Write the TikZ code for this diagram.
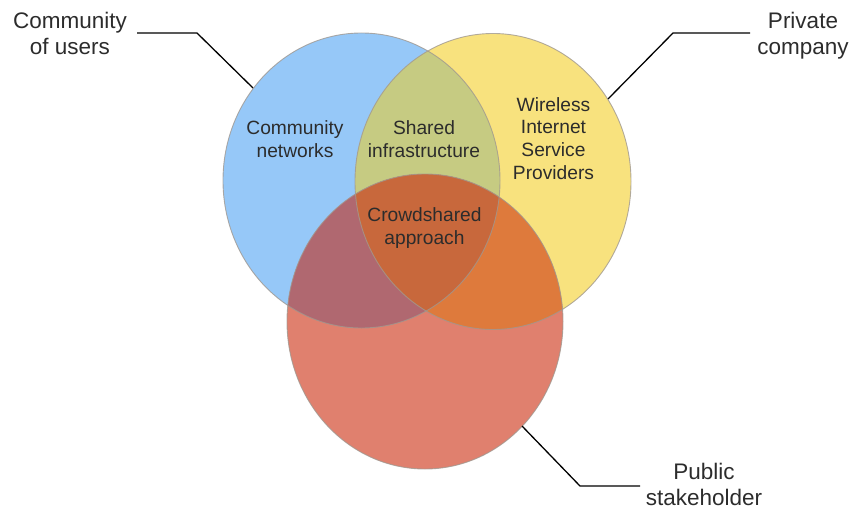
\documentclass[tikz,border=0pt]{standalone}
\usepackage{fontspec}
\setmainfont{Liberation Sans}
\definecolor{cblue}{HTML}{96C8F8}
\definecolor{cyellow}{HTML}{F8E27E}
\definecolor{cred}{HTML}{E0806E}
\definecolor{cby}{HTML}{C6CB82}
\definecolor{cbr}{HTML}{B06870}
\definecolor{cyr}{HTML}{DE7A3C}
\definecolor{cbyr}{HTML}{C8683C}
\definecolor{ctext}{HTML}{2C2C2C}
\definecolor{cedge}{HTML}{A09890}
\begin{document}
\begin{tikzpicture}[x=1pt,y=-1pt,
  outerlab/.style={anchor=base,align=center,inner sep=0pt,text=ctext,font=\fontsize{22.5}{26}\selectfont},
  innerlab/.style={anchor=base,align=center,inner sep=0pt,text=ctext,font=\fontsize{19.2}{22.6}\selectfont},
  leader/.style={draw=black,line width=1.3pt},
  rim/.style={draw=cedge,line width=0.9pt,draw opacity=0.8}]
\useasboundingbox (0,0) rectangle (851,511);
\def\PB{(361.5,180.5) ellipse [x radius=138.5, y radius=147.5]}
\def\PY{(493,181.5) ellipse [x radius=138, y radius=148]}
\def\PR{(425,321.5) ellipse [x radius=138, y radius=147.5]}
% base circles
\fill[cblue] \PB;
\fill[cyellow] \PY;
\fill[cred] \PR;
% pairwise overlaps
\begin{scope}\clip \PB; \fill[cby] \PY; \end{scope}
\begin{scope}\clip \PB; \fill[cbr] \PR; \end{scope}
\begin{scope}\clip \PY; \fill[cyr] \PR; \end{scope}
\begin{scope}\clip \PB; \clip \PY; \fill[cbyr] \PR; \end{scope}
% rims
\path[rim] \PB;
\path[rim] \PY;
\path[rim] \PR;
% inner labels (base anchor = last line's baseline)
\node[innerlab] (cn) at (295,157) {Community\\networks};
\node[innerlab] (si) at (424,157) {Shared\\infrastructure};
\node[innerlab] (wi) at (553.5,179) {Wireless\\Internet\\Service\\Providers};
\node[innerlab] (ca) at (424.5,244) {Crowdshared\\approach};
% outer labels
\node[outerlab] (cu) at (70,55) {Community\\of users};
\node[outerlab] (pc) at (803,55) {Private\\company};
\node[outerlab] (ps) at (704,505) {Public\\stakeholder};
% leader points
\coordinate (a1) at (137,33);
\coordinate (a2) at (197,33);
\coordinate (a3) at (253,88);
\coordinate (b1) at (750,33);
\coordinate (b2) at (673,33);
\coordinate (b3) at (608,99);
\coordinate (d1) at (640,486);
\coordinate (d2) at (580,486);
\coordinate (d3) at (522,426);
\draw[leader] (a1) -- (a2) -- (a3);
\draw[leader] (b1) -- (b2) -- (b3);
\draw[leader] (d1) -- (d2) -- (d3);
\end{tikzpicture}
\end{document}
